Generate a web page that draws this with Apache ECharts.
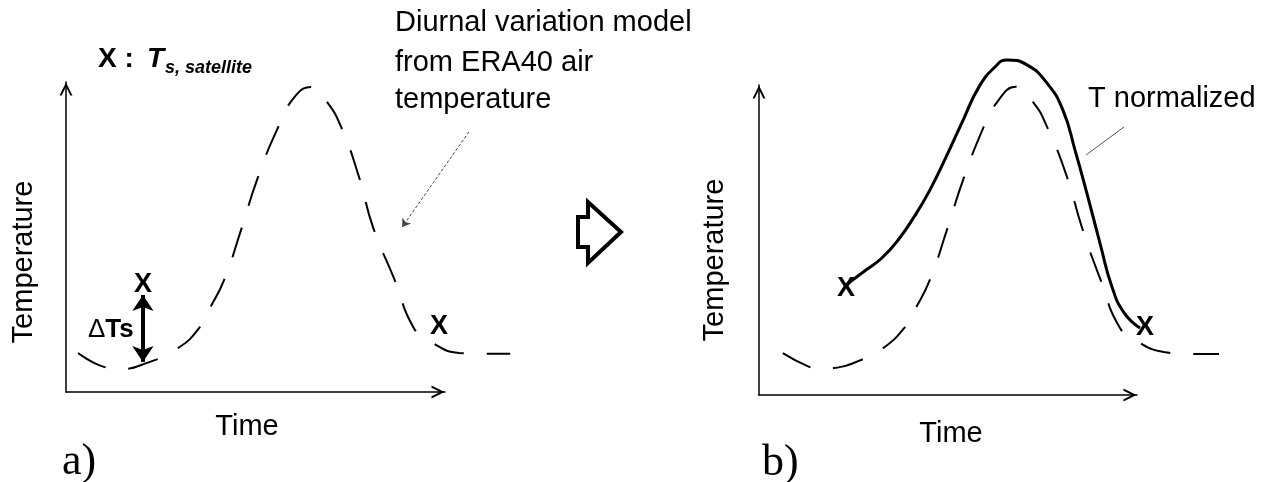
<!DOCTYPE html>
<html>
<head>
<meta charset="utf-8">
<script src="https://cdn.jsdelivr.net/npm/echarts@6/dist/echarts.min.js"></script>
<style>html,body{margin:0;background:#fff}#main{width:1271px;height:482px}</style>
</head>
<body>
<div id="main"></div>
<script>
// panel a) diurnal model from ERA40 air temperature (dashed) and satellite Ts
var modelA = [[3.2,12.6],[10.0,8.1],[14.2,7.4],[21.4,9.4],[29.6,14.2],[35.1,20.6],[38.0,27.1],[41.7,36.1],
    [46.2,52.3],[50.4,68.4],[55.9,85.2],[60.7,95.8],[64.9,98.4],[68.9,93.5],[72.6,85.5],[77.3,69.4],
    [81.0,53.2],[86.5,36.8],[91.8,20.6],[96.3,16.1],[103.7,12.6],[109.8,12.3],[117.2,12.3]];
var satA = [[20.3,34.8],[98.4,21.0]];
var deltaTs = [[20.3,31.3],[20.3,9.7]];
var pointerA = [[106.3,83.9],[88.7,53.2]];

// panel b) same model plus normalized T through the satellite points
var modelB = [[6.3,13.5],[12.7,9.4],[16.1,8.4],[19.8,8.7],[27.0,11.3],[32.5,14.8],[38.4,21.6],[41.5,28.1],
    [45.2,37.1],[49.7,53.2],[54.0,69.4],[59.3,86.1],[62.4,93.5],[68.0,99.4],[72.5,94.5],[76.2,86.5],
    [81.5,70.3],[85.4,54.2],[90.2,37.7],[95.5,21.6],[100.3,17.1],[107.1,13.9],[114.0,13.2],[121.7,13.2]];
var normB = [[23.0,35.5],[28.3,40.3],[32.5,44.2],[36.8,50.0],[41.0,57.4],[45.2,66.1],[49.5,76.8],
    [54.0,88.7],[58.2,99.4],[62.4,105.8],[65.6,108.1],[70.9,106.5],[76.2,100.6],[80.4,91.9],
    [83.6,79.0],[87.0,63.9],[90.2,49.0],[93.4,34.8],[96.6,26.5],[100.8,21.6]];
var satB = [[23.0,34.2],[102.1,21.9]];
var pointerB = [[96.6,86.5],[86.5,77.4]];

var SANS = '"Liberation Sans", Arial, sans-serif';
var SERIF = '"Liberation Serif", "Times New Roman", serif';
var chevron = 'path://M0,24 L12,0 L24,24 L20,24 L12,8 L4,24 Z';
var XMAX = 130; // data grids reach past the drawn axis arrows

// axis frames (grids 0,1) and data planes (grids 2,3) share the same scale
var frames = [{left: 66, top: 82, w: 379, h: 310}, {left: 759, top: 85, w: 378, h: 310}];

function frameAxis(g) {
    return {
        type: 'value', gridIndex: g, min: 0, max: 100,
        axisLabel: {show: false}, axisTick: {show: false}, splitLine: {show: false},
        axisLine: {
            show: true, onZero: false,
            symbol: ['none', chevron], symbolSize: [13, 14], symbolOffset: [0, -7],
            lineStyle: {color: '#000', width: 1.5}
        }
    };
}
function dataAxis(g, max) {
    return {type: 'value', gridIndex: g, min: 0, max: max, show: false};
}

function dashed(data, g) {
    return {
        type: 'line', xAxisIndex: g, yAxisIndex: g, data: data, smooth: true,
        showSymbol: false, clip: false, silent: true,
        lineStyle: {color: '#000', width: 2, type: [31, 23]}
    };
}

function marks(data, g) {
    return {
        type: 'scatter', xAxisIndex: g, yAxisIndex: g, data: data, symbolSize: 1,
        clip: false, silent: true, itemStyle: {color: 'transparent', opacity: 1},
        label: {show: true, position: 'inside', formatter: 'X', color: '#000', opacity: 1,
            fontSize: 27, fontWeight: 'bold', fontFamily: SANS, textBorderWidth: 0}, z: 5
    };
}

function txt(x, y, text, font, extra) {
    var s = {text: text, font: font, fill: '#000', align: 'left', verticalAlign: 'middle'};
    for (var k in (extra || {})) s[k] = extra[k];
    return {type: 'text', x: x, y: y, style: s};
}

var chart = echarts.init(document.getElementById('main'));
var option = {
    backgroundColor: '#fff',
    animation: false,
    grid: [
        {left: frames[0].left, top: frames[0].top, width: frames[0].w, height: frames[0].h},
        {left: frames[1].left, top: frames[1].top, width: frames[1].w, height: frames[1].h},
        {left: frames[0].left, top: frames[0].top, width: frames[0].w * XMAX / 100, height: frames[0].h},
        {left: frames[1].left, top: frames[1].top, width: frames[1].w * XMAX / 100, height: frames[1].h}
    ],
    xAxis: [frameAxis(0), frameAxis(1), dataAxis(2, XMAX), dataAxis(3, XMAX)],
    yAxis: [frameAxis(0), frameAxis(1), dataAxis(2, 100), dataAxis(3, 100)],
    series: [
        dashed(modelA, 2),
        {
            type: 'lines', coordinateSystem: 'cartesian2d', xAxisIndex: 2, yAxisIndex: 2,
            data: [{coords: deltaTs}], symbol: ['arrow', 'arrow'], symbolSize: 16, clip: false, silent: true,
            lineStyle: {color: '#000', width: 4, opacity: 1, curveness: 0}
        },
        {
            type: 'lines', coordinateSystem: 'cartesian2d', xAxisIndex: 2, yAxisIndex: 2,
            data: [{coords: pointerA}], symbol: ['none', 'arrow'], symbolSize: 8, clip: false, silent: true,
            lineStyle: {color: '#444', width: 1, opacity: 1, type: [3, 2]}
        },
        marks(satA, 2),
        dashed(modelB, 3),
        {
            type: 'line', xAxisIndex: 3, yAxisIndex: 3, data: normB, smooth: true,
            showSymbol: false, clip: false, silent: true,
            lineStyle: {color: '#000', width: 3}
        },
        {
            type: 'lines', coordinateSystem: 'cartesian2d', xAxisIndex: 3, yAxisIndex: 3,
            data: [{coords: pointerB}], symbol: ['none', 'none'], clip: false, silent: true,
            lineStyle: {color: '#555', width: 1, opacity: 1}
        },
        marks(satB, 3)
    ],
    graphic: [
        txt(395, 23, 'Diurnal variation model', '29px ' + SANS),
        txt(395, 63, 'from ERA40 air', '29px ' + SANS),
        txt(395, 100, 'temperature', '29px ' + SANS),
        txt(98, 59, 'X :', 'bold 28px ' + SANS),
        txt(147, 59, 'T', 'italic bold 28px ' + SANS),
        txt(165, 68, 's, satellite', 'italic bold 18px ' + SANS),
        txt(88, 330, '{d|Δ}{t|Ts}', '26px ' + SANS, {
            rich: {d: {font: '26px ' + SANS, fill: '#000'}, t: {font: 'bold 26px ' + SANS, fill: '#000'}}
        }),
        txt(1088, 99, 'T normalized', '29px ' + SANS),
        txt(247, 427, 'Time', '29px ' + SANS, {align: 'center'}),
        txt(951, 434, 'Time', '29px ' + SANS, {align: 'center'}),
        {type: 'text', x: 24, y: 262, rotation: Math.PI / 2,
            style: {text: 'Temperature', font: '29px ' + SANS, fill: '#000', align: 'center', verticalAlign: 'middle'}},
        {type: 'text', x: 715, y: 260, rotation: Math.PI / 2,
            style: {text: 'Temperature', font: '29px ' + SANS, fill: '#000', align: 'center', verticalAlign: 'middle'}},
        txt(62, 462, 'a)', '44px ' + SERIF),
        txt(762, 463, 'b)', '44px ' + SERIF),
        {type: 'polygon', shape: {points: [[578, 217], [588, 217], [588, 202], [621, 232], [588, 263], [588, 247], [578, 247]]},
            style: {fill: '#fff', stroke: '#000', lineWidth: 4, lineJoin: 'miter'}}
    ]
};
chart.setOption(option);
</script>
</body>
</html>
